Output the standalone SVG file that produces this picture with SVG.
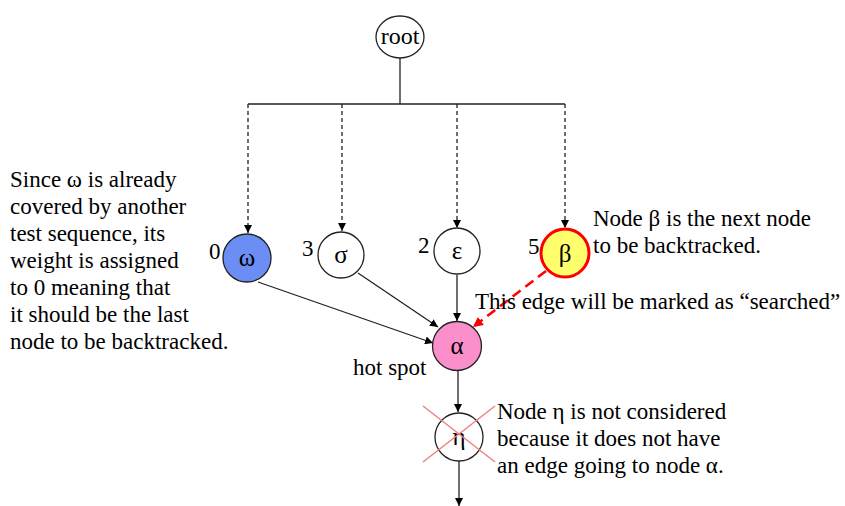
<svg xmlns="http://www.w3.org/2000/svg" width="845" height="506" viewBox="0 0 845 506">
  <style>
    .t { font-family: "Liberation Serif", "Times New Roman", serif; font-size: 23px; fill: #000; }
    .g { font-family: "Liberation Serif", "Times New Roman", serif; font-size: 25px; fill: #000; text-anchor: middle; }
    .n { stroke: #222; stroke-width: 1.3; }
    .e { stroke: #222; stroke-width: 1.3; fill: none; }
    .d { stroke: #222; stroke-width: 1.3; fill: none; stroke-dasharray: 4 3; }
  </style>
  <defs>
    <marker id="ah" viewBox="0 0 10 10" refX="10" refY="5" markerWidth="8" markerHeight="8" markerUnits="userSpaceOnUse" orient="auto">
      <path d="M0,0 L10,5 L0,10 Z" fill="#000"/>
    </marker>
    <marker id="ahr" viewBox="0 0 10 10" refX="10" refY="5" markerWidth="10" markerHeight="10" markerUnits="userSpaceOnUse" orient="auto">
      <path d="M0,0 L10,5 L0,10 Z" fill="#ff0000"/>
    </marker>
  </defs>
  <rect width="845" height="506" fill="#fff"/>

  <g id="connectors">
    <line class="e" x1="400" y1="58" x2="400" y2="104"/>
    <line class="e" x1="248" y1="104" x2="565" y2="104"/>
    <line class="d" x1="248" y1="104" x2="248" y2="233" marker-end="url(#ah)"/>
    <line class="d" x1="342" y1="104" x2="342" y2="231" marker-end="url(#ah)"/>
    <line class="d" x1="457" y1="104" x2="457" y2="228" marker-end="url(#ah)"/>
    <line class="d" x1="565" y1="104" x2="565" y2="228" marker-end="url(#ah)"/>
    <line class="e" x1="258" y1="282" x2="433" y2="343" marker-end="url(#ah)"/>
    <line class="e" x1="358" y1="273" x2="438" y2="327" marker-end="url(#ah)"/>
    <line class="e" x1="457" y1="275" x2="457" y2="321" marker-end="url(#ah)"/>
    <line x1="546" y1="271" x2="473" y2="327" stroke="#ff0000" stroke-width="2.6" stroke-dasharray="10 6" marker-end="url(#ahr)"/>
    <line class="e" x1="458" y1="371" x2="458" y2="412" marker-end="url(#ah)"/>
    <line class="e" x1="459" y1="461" x2="459" y2="506" marker-end="url(#ah)"/>
  </g>

  <g id="node-root">
    <ellipse cx="400" cy="37" rx="24" ry="21" fill="#fff" class="n"/>
    <text class="g" x="400" y="44" style="font-size:24px">root</text>
  </g>

  <g id="node-omega">
    <circle cx="247" cy="258" r="24" fill="#6b8ef5" class="n"/>
    <text class="g" x="247" y="266">ω</text>
    <text class="t" x="209" y="259">0</text>
  </g>

  <g id="node-sigma">
    <circle cx="341" cy="255" r="23" fill="#fff" class="n"/>
    <text class="g" x="341" y="263">σ</text>
    <text class="t" x="302" y="256">3</text>
  </g>

  <g id="node-epsilon">
    <circle cx="457" cy="251" r="23" fill="#fff" class="n"/>
    <text class="g" x="457" y="259">ε</text>
    <text class="t" x="418" y="253">2</text>
  </g>

  <g id="node-beta">
    <circle cx="565" cy="253" r="24" fill="#ffff6e" stroke="#ff0000" stroke-width="3"/>
    <text class="g" x="565" y="262">β</text>
    <text class="t" x="528" y="254">5</text>
  </g>

  <g id="node-alpha">
    <circle cx="457" cy="346" r="24.5" fill="#fa8fcb" class="n"/>
    <text class="g" x="457" y="354">α</text>
  </g>

  <g id="node-eta">
    <circle cx="459" cy="437" r="24" fill="#fff" class="n"/>
    <text class="g" x="459" y="445">η</text>
    <line x1="423" y1="406" x2="495" y2="462" stroke="#f08080" stroke-width="1.5"/>
    <line x1="495" y1="406" x2="423" y2="462" stroke="#f08080" stroke-width="1.5"/>
  </g>

  <g id="notes">
    <text class="t" x="10" y="187">Since ω is already</text>
    <text class="t" x="10" y="214">covered by another</text>
    <text class="t" x="10" y="241">test sequence, its</text>
    <text class="t" x="10" y="268">weight is assigned</text>
    <text class="t" x="10" y="295">to 0 meaning that</text>
    <text class="t" x="10" y="322">it should be the last</text>
    <text class="t" x="10" y="349">node to be backtracked.</text>

    <text class="t" x="593" y="226">Node β is the next node</text>
    <text class="t" x="593" y="253">to be backtracked.</text>

    <text class="t" x="475" y="309">This edge will be marked as “searched”</text>

    <text class="t" x="353" y="375">hot spot</text>

    <text class="t" x="497" y="419">Node η is not considered</text>
    <text class="t" x="497" y="446">because it does not have</text>
    <text class="t" x="497" y="473">an edge going to node α.</text>
  </g>
</svg>
